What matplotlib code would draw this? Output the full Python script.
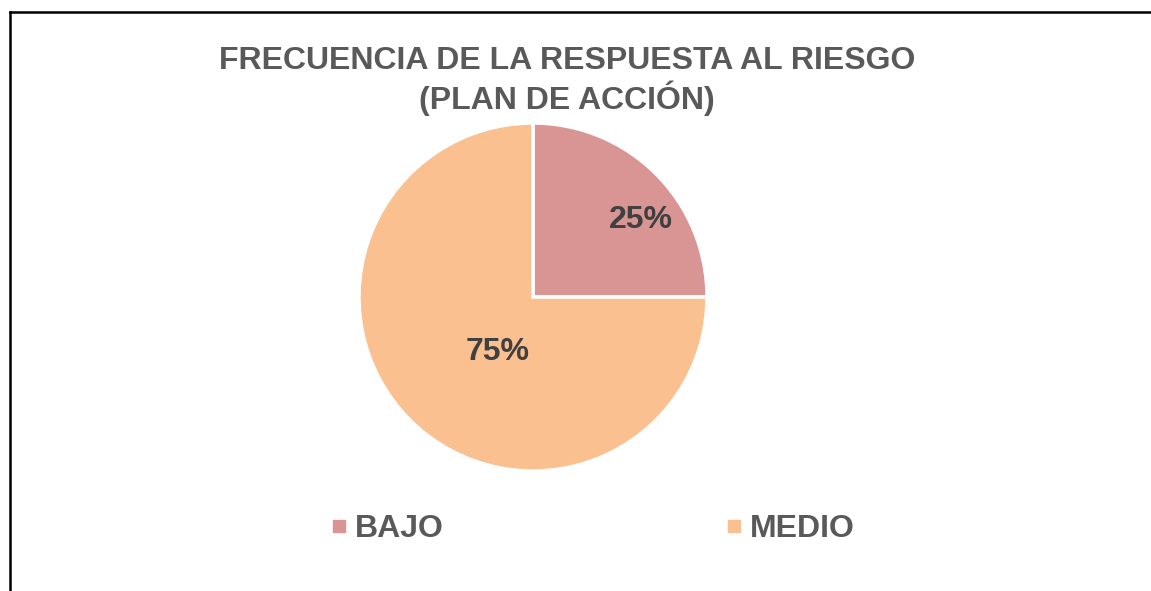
import matplotlib
matplotlib.use("Agg")
import matplotlib.pyplot as plt
from matplotlib.lines import Line2D

categories = ["BAJO", "MEDIO"]
values = [25, 75]
colors = ["#D99594", "#FAC090"]
title = "FRECUENCIA DE LA RESPUESTA AL RIESGO\n(PLAN DE ACCIÓN)"

plt.rcParams['font.family'] = ['Liberation Sans', 'DejaVu Sans']

W, H = 1151, 591
fig = plt.figure(figsize=(W / 100, H / 100), dpi=100)
fig.patch.set_facecolor("white")

cx, cy, r = 533, 297, 174
ax = fig.add_axes([(cx - r) / W, (H - cy - r) / H, 2 * r / W, 2 * r / H])
wedges, texts, autotexts = ax.pie(
    values, colors=colors, startangle=90, counterclock=False, radius=1,
    autopct=lambda p: f"{p:.0f}%",
    wedgeprops=dict(edgecolor="white", linewidth=2.5),
    textprops=dict(fontsize=23, fontweight="bold", color="#404040"))
ax.set_xlim(-1, 1)
ax.set_ylim(-1, 1)
ax.axis("off")
label_pos = [(108 / r, 77 / r), (-35 / r, -55 / r)]
for t, p in zip(autotexts, label_pos):
    t.set_position(p)
    t.set_ha("center")
    t.set_va("center")

fig.text(567 / W, 1 - 81 / H, title, ha="center", va="center", fontsize=23,
         fontweight="bold", color="#595959", linespacing=1.15)

handles = [Line2D([], [], linestyle="none", marker="s", markersize=8.5,
                  markerfacecolor=c, markeredgecolor=c) for c in colors]
fig.legend(handles, categories, loc="center", bbox_to_anchor=(592 / W, 1 - 529 / H),
           ncol=2, frameon=False, handlelength=0.6, handletextpad=0.2,
           columnspacing=8.8, prop=dict(size=23, weight="bold"),
           labelcolor="#595959")

fig.add_artist(Line2D([10 / W, 10 / W], [0, 1 - 12 / H], color="black", lw=1.8,
                      transform=fig.transFigure))
fig.add_artist(Line2D([10 / W, 1], [1 - 12 / H, 1 - 12 / H], color="black", lw=1.8,
                      transform=fig.transFigure))

fig.savefig("out.png", dpi=100, facecolor="white")
